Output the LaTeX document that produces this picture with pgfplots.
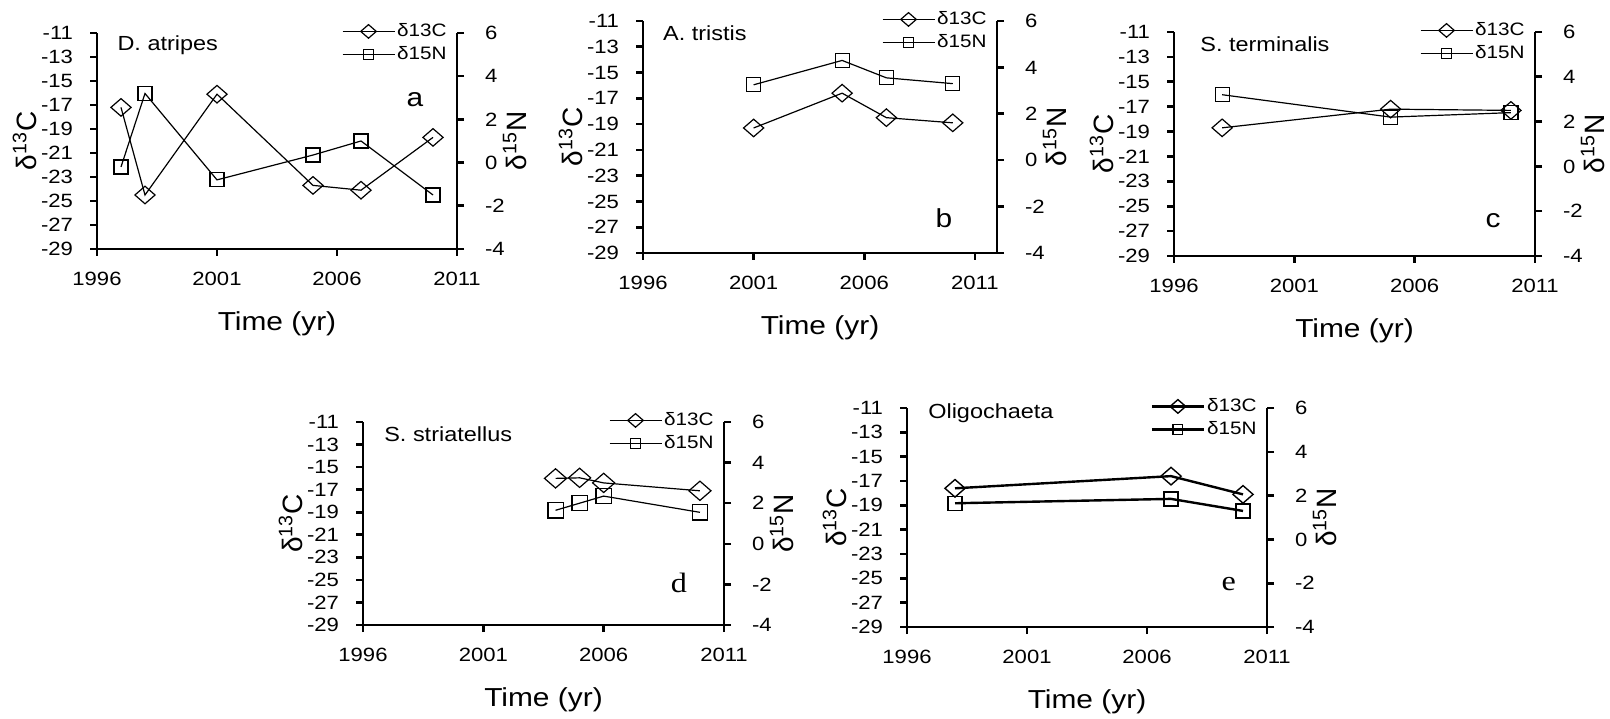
\documentclass[border=0pt]{standalone}
\usepackage{fontspec}
\setmainfont{Liberation Sans}[FakeStretch=1.15]
\newfontfamily\plainsans{Liberation Sans}
\newfontfamily\letterserif{Liberation Serif}[FakeStretch=1.15]
\usepackage{pgfplots}
\usepackage{pgfplotstable}
\pgfplotsset{compat=1.18}

% isotope values per taxon: year, delta13C (left axis), delta15N (right axis)
\pgfplotstableread{
year C N
1997 -17.2 -0.2
1998 -24.5 3.2
2001 -16.1 -0.8
2005 -23.7 0.35
2007 -24.1 1.0
2010 -19.7 -1.5
}\tabA
\pgfplotstableread{
year C N
2001 -19.3 3.25
2005 -16.6 4.3
2007 -18.5 3.55
2010 -18.9 3.3
}\tabB
\pgfplotstableread{
year C N
1998 -18.7 3.2
2005 -17.2 2.2
2010 -17.3 2.4
}\tabC
\pgfplotstableread{
year C N
2004 -16.0 1.65
2005 -15.95 2.0
2006 -16.4 2.35
2010 -17.1 1.55
}\tabD
\pgfplotstableread{
year C N
1998 -17.6 1.65
2007 -16.6 1.85
2010 -18.1 1.3
}\tabE

\tikzset{
  namelbl/.style={anchor=base west, inner sep=0pt, font=\fontsize{10.2}{12}\selectfont},
  letterlbl/.style={inner sep=0pt, font=\fontsize{13}{15}\selectfont},
}

\pgfplotsset{
  isobase/.style={
    scale only axis, xmin=1996, xmax=2011, clip=false,
    axis line style={line width=1.3pt, -},
    every tick/.style={black, line width=1.3pt},
    major tick length=3.5pt, tick align=outside,
    tick label style={font=\fontsize{9.6}{11}\selectfont},
    /pgf/number format/assume math mode=true,
    ylabel style={font=\plainsans\fontsize{14}{16}\selectfont},
    xlabel style={font=\fontsize{13}{15}\selectfont},
  },
  leftax/.style={isobase,
    axis y line*=left, axis x line*=bottom,
    ymin=-29, ymax=-11, ytick={-29,-27,...,-11},
    yticklabel style={xshift=-5pt},
    xtick={1996,2001,2006,2011},
    xticklabel style={/pgf/number format/1000 sep={}, yshift=-4.5pt},
    xlabel={Time (yr)}, ylabel={δ\textsuperscript{13}C},
    xlabel style={at={(axis description cs:0.5,0)}, anchor=center, yshift=-37.5pt},
    ylabel style={at={(axis description cs:0,0.5)}, anchor=center, yshift=36pt},
  },
  rightax/.style={isobase,
    axis y line*=right, axis x line=none,
    ymin=-4, ymax=6, ytick={-4,-2,...,6},
    yticklabel style={xshift=7pt},
    ylabel={δ\textsuperscript{15}N},
    ylabel style={at={(axis description cs:1,0.5)}, anchor=center, yshift=-29pt},
    legend style={draw=none, fill=none, at={(1,1)}, anchor=north east,
      xshift=-4pt, yshift=6pt, font=\fontsize{9}{10}\selectfont,
      inner sep=0pt, row sep=1.5pt, nodes={inner sep=1pt}},
    legend cell align=left,
    legend image code/.code={\draw[mark repeat=2,mark phase=2,##1,mark size=2.4pt]
      plot coordinates {(0pt,0pt)(13pt,0pt)(26pt,0pt)};},
  },
  cser/.style={black, line width=0.6pt, mark=square, mark size=3.1pt,
    mark options={xscale=1.15, rotate=45, fill=none, solid}},
  nser/.style={black, line width=0.6pt, mark=square, mark size=3.5pt,
    mark options={fill=none, solid}},
  cserb/.style={cser, line width=1.2pt, mark options={xscale=1.15, rotate=45, fill=none, solid, line width=0.7pt}},
  nserb/.style={nser, line width=1.2pt, mark options={fill=none, solid, line width=0.7pt}},
}

\begin{document}
\begin{tikzpicture}
\useasboundingbox (0,0) rectangle (805pt,359pt);

% (a) D. atripes
\begin{axis}[leftax, at={(48.5pt,234.5pt)}, anchor=south west, width=180pt, height=108pt]
  \addplot[cser] table[x=year,y=C]{\tabA};
  \node[namelbl] at (rel axis cs:0.056,0.921) {D. atripes};
  \node[letterlbl] at (rel axis cs:0.883,0.69) {a};
\end{axis}
\begin{axis}[rightax, at={(48.5pt,234.5pt)}, anchor=south west, width=180pt, height=108pt]
  \addlegendimage{cser}\addlegendentry{δ13C}
  \addplot[nser] table[x=year,y=N]{\tabA};\addlegendentry{δ15N}
\end{axis}

% (b) A. tristis
\begin{axis}[leftax, xmax=2012, at={(321.5pt,232.5pt)}, anchor=south west, width=177pt, height=116pt]
  \addplot[cser] table[x=year,y=C]{\tabB};
  \node[namelbl] at (rel axis cs:0.056,0.918) {A. tristis};
  \node[letterlbl] at (rel axis cs:0.85,0.15) {b};
\end{axis}
\begin{axis}[rightax, xmax=2012, at={(321.5pt,232.5pt)}, anchor=south west, width=177pt, height=116pt]
  \addlegendimage{cser}\addlegendentry{δ13C}
  \addplot[nser] table[x=year,y=N]{\tabB};\addlegendentry{δ15N}
\end{axis}

% (c) S. terminalis
\begin{axis}[leftax, at={(587pt,231pt)}, anchor=south west, width=180.5pt, height=112pt]
  \addplot[cser] table[x=year,y=C]{\tabC};
  \node[namelbl] at (rel axis cs:0.072,0.911) {S. terminalis};
  \node[letterlbl] at (rel axis cs:0.884,0.16) {c};
\end{axis}
\begin{axis}[rightax, at={(587pt,231pt)}, anchor=south west, width=180.5pt, height=112pt]
  \addlegendimage{cser}\addlegendentry{δ13C}
  \addplot[nser] table[x=year,y=N]{\tabC};\addlegendentry{δ15N}
\end{axis}

% (d) S. striatellus
\begin{axis}[leftax, at={(181.5pt,46.5pt)}, anchor=south west, width=180.5pt, height=101.5pt]
  \addplot[cser, mark size=3.4pt] table[x=year,y=C]{\tabD};
  \node[namelbl] at (rel axis cs:0.058,0.906) {S. striatellus};
  \node[letterlbl, font=\letterserif\fontsize{14}{16}\selectfont] at (rel axis cs:0.875,0.207) {d};
\end{axis}
\begin{axis}[rightax, at={(181.5pt,46.5pt)}, anchor=south west, width=180.5pt, height=101.5pt]
  \addlegendimage{cser}\addlegendentry{δ13C}
  \addplot[nser, mark size=3.8pt] table[x=year,y=N]{\tabD};\addlegendentry{δ15N}
\end{axis}

% (e) Oligochaeta
\begin{axis}[leftax, at={(453.5pt,45.5pt)}, anchor=south west, width=180pt, height=109.5pt]
  \addplot[cserb] table[x=year,y=C]{\tabE};
  \node[namelbl] at (rel axis cs:0.058,0.95) {Oligochaeta};
  \node[letterlbl, font=\letterserif\fontsize{14}{16}\selectfont] at (rel axis cs:0.894,0.196) {e};
\end{axis}
\begin{axis}[rightax, at={(453.5pt,45.5pt)}, anchor=south west, width=180pt, height=109.5pt]
  \addlegendimage{cserb}\addlegendentry{δ13C}
  \addplot[nserb] table[x=year,y=N]{\tabE};\addlegendentry{δ15N}
\end{axis}
\end{tikzpicture}
\end{document}
